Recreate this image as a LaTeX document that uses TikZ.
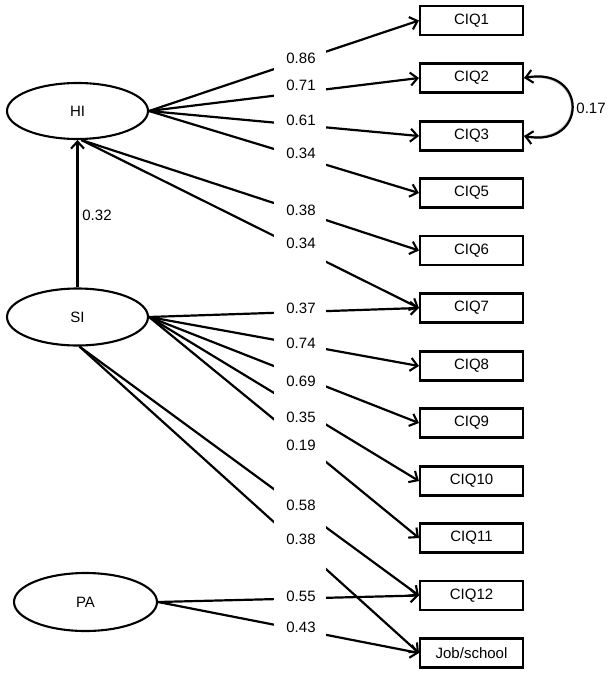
\documentclass[tikz,border=0pt]{standalone}
\usepackage{fontspec}
\setmainfont{Liberation Sans}
\usetikzlibrary{arrows.meta,calc,shapes.geometric}
\begin{document}
\begin{tikzpicture}[x=1pt,y=-1pt,
  every node/.style={font=\fontsize{15}{18}\selectfont},
  obs/.style={draw, line width=2.1pt, minimum width=103pt, minimum height=29pt, inner sep=0pt},
  lat/.style={draw, ellipse, line width=2.1pt, inner sep=0pt},
  tip/.tip={Straight Barb[length=7pt,width=13pt,line width=2.1pt]},
  arrowline/.style={line width=2.2pt, -tip},
  coef/.style={inner sep=1pt}
]
\useasboundingbox (0,0) rectangle (612,674);
% latent variables
\node[lat, minimum width=141pt, minimum height=56pt] (HI) at (77.5,111) {HI};
\node[lat, minimum width=141pt, minimum height=57pt] (SI) at (77.5,317) {SI};
\node[lat, minimum width=143pt, minimum height=58pt] (PA) at (85.5,602) {PA};
% observed variables
\node[obs] (C1) at (471.5,20.5) {CIQ1};
\node[obs] (C2) at (471.5,78) {CIQ2};
\node[obs] (C3) at (471.5,136) {CIQ3};
\node[obs] (C5) at (471.5,193) {CIQ5};
\node[obs] (C6) at (471.5,250.5) {CIQ6};
\node[obs] (C7) at (471.5,308) {CIQ7};
\node[obs] (C8) at (471.5,366) {CIQ8};
\node[obs] (C9) at (471.5,423) {CIQ9};
\node[obs] (C10) at (471.5,481) {CIQ10};
\node[obs] (C11) at (471.5,538) {CIQ11};
\node[obs] (C12) at (471.5,595.5) {CIQ12};
\node[obs] (JS) at (471.5,653) {Job/school};
% structural path
\draw[arrowline, line width=2.6pt] (SI.north) -- (HI.south);
\node[coef] (l32) at (97,215) {0.32};
% loadings
\draw[arrowline] (HI.east) -- (C1.west);
\draw[arrowline] (HI.east) -- (C2.west);
\draw[arrowline] (HI.east) -- (C3.west);
\draw[arrowline] (HI.east) -- (C5.west);
\draw[arrowline] ([xshift=4pt]HI.south) -- (C6.west);
\draw[arrowline] ([xshift=4pt]HI.south) -- (C7.west);
\draw[arrowline] (SI.east) -- (C7.west);
\draw[arrowline] (SI.east) -- (C8.west);
\draw[arrowline] (SI.east) -- (C9.west);
\draw[arrowline] (SI.east) -- (C10.west);
\draw[arrowline] (SI.east) -- (C11.west);
\draw[arrowline] ([xshift=2pt]SI.south) -- (C12.west);
\draw[arrowline] ([xshift=2pt]SI.south) -- (JS.west);
\draw[arrowline] (PA.east) -- (C12.west);
\draw[arrowline] (PA.east) -- (JS.west);
% gap band where coefficients are printed
\fill[white] (274,40) rectangle (326,640);
\node[coef] (l86) at (301,58) {0.86};
\node[coef] (l71) at (301,85) {0.71};
\node[coef] (l61) at (301,120) {0.61};
\node[coef] (l34a) at (301,153) {0.34};
\node[coef] (l38a) at (301,210) {0.38};
\node[coef] (l34b) at (301,243) {0.34};
\node[coef] (l37) at (301,308) {0.37};
\node[coef] (l74) at (301,343) {0.74};
\node[coef] (l69) at (301,381) {0.69};
\node[coef] (l35) at (301,417) {0.35};
\node[coef] (l19) at (301,445) {0.19};
\node[coef] (l58) at (301,505) {0.58};
\node[coef] (l38b) at (301,539) {0.38};
\node[coef] (l55) at (301,596) {0.55};
\node[coef] (l43) at (301,627) {0.43};
% correlated residual
\draw[line width=2.2pt, gray!55, shift={(1pt,1.8pt)}] (C2.east) .. controls +(64,-12) and +(64,12) .. (C3.east);
\draw[line width=2.2pt, tip-tip] (C2.east) .. controls +(64,-12) and +(64,12) .. (C3.east);
\node[coef] (l17) at (591,108) {0.17};
\end{tikzpicture}
\end{document}
